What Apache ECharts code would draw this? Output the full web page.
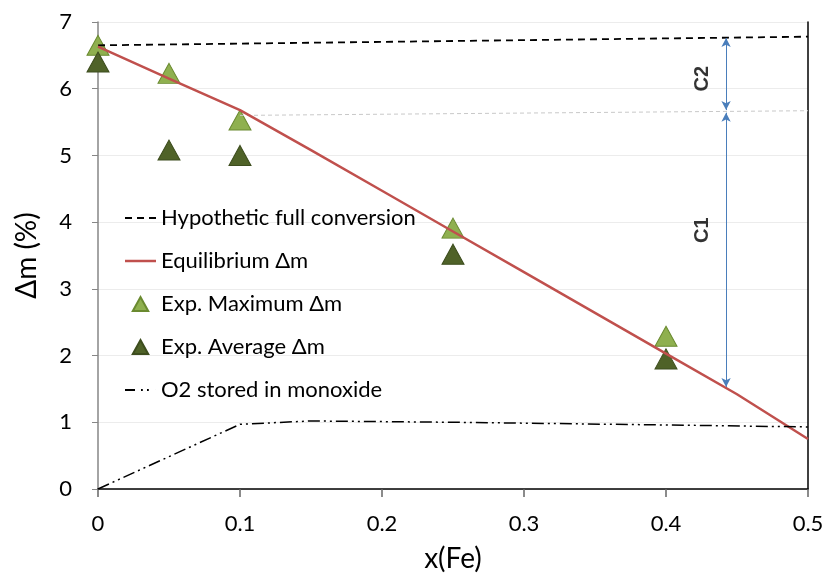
<!DOCTYPE html>
<html>
<head>
<meta charset="utf-8">
<script src="https://cdn.jsdelivr.net/npm/echarts@6/dist/echarts.min.js"></script>
<style>
html,body{margin:0;padding:0;background:#fff;}
#chart{width:828px;height:574px;}
</style>
</head>
<body>
<div id="chart"></div>
<script>
// series values
var fullConversion = [[0, 6.65], [0.5, 6.78]];
var equilibrium = [[0, 6.63], [0.05, 6.15], [0.1, 5.68], [0.15, 5.08], [0.2, 4.47], [0.25, 3.86],
                   [0.3, 3.25], [0.35, 2.64], [0.4, 2.03], [0.45, 1.42], [0.5, 0.75]];
var expMax = [[0, 6.65], [0.05, 6.23], [0.1, 5.53], [0.25, 3.91], [0.4, 2.29]];
var expAvg = [[0, 6.4], [0.05, 5.08], [0.1, 5.0], [0.25, 3.52], [0.4, 1.95]];
var o2Stored = [[0, 0], [0.1, 0.97], [0.15, 1.02], [0.25, 1.0], [0.4, 0.96], [0.5, 0.93]];
var c1Level = [[0.1, 5.6], [0.5, 5.67]];
var arrowX = 0.4423;
var c2Range = [6.76, 5.68];
var c1Range = [5.64, 1.53];
var cLabels = [[0.426, 6.15, 'C2'], [0.426, 3.88, 'C1']];

var chart = echarts.init(document.getElementById('chart'));
var font = 'Lato, "Noto Sans", sans-serif';

// legend icons
var dashIcon = 'path://M0,0h7v1.8h-7z M12,0h7v1.8h-7z M24,0h7v1.8h-7z';
var solidIcon = 'path://M0,0h31v2.5h-31z';
var dashDotIcon = 'path://M0,0h10v1.8h-10z M16,0h1.8v1.8h-1.8z M22,0h1.8v1.8h-1.8z M30.9,0h0.1v0.1h-0.1z';
var triIcon = 'path://M0,20L11,0L22,20Z';

var option = {
    animation: false,
    textStyle: {fontFamily: font},
    grid: {left: 98, right: 20, top: 22, bottom: 85, outerBoundsMode: 'none'},
    legend: {
        orient: 'vertical',
        left: 120,
        top: 202,
        itemWidth: 31,
        itemHeight: 14,
        itemGap: 21,
        textStyle: {fontSize: 22, color: '#000', fontFamily: font},
        data: [
            {name: 'Hypothetic full conversion', icon: dashIcon},
            {name: 'Equilibrium Δm', icon: solidIcon},
            {name: 'Exp. Maximum Δm', icon: triIcon},
            {name: 'Exp. Average Δm', icon: triIcon},
            {name: 'O2 stored in monoxide', icon: dashDotIcon}
        ]
    },
    xAxis: {
        type: 'value',
        min: 0, max: 0.5, interval: 0.1,
        name: 'x(Fe)',
        nameLocation: 'middle',
        nameGap: 56,
        nameTextStyle: {fontSize: 28, color: '#000', fontFamily: font},
        axisLine: {lineStyle: {color: '#000', width: 1.5}},
        axisTick: {length: 8, lineStyle: {color: '#666', width: 1.5}},
        axisLabel: {fontSize: 22, color: '#000', margin: 24},
        splitLine: {show: false}
    },
    yAxis: [{
        type: 'value',
        min: 0, max: 7, interval: 1,
        name: 'Δm (%)',
        nameLocation: 'middle',
        nameGap: 57,
        nameTextStyle: {fontSize: 28, color: '#000', fontFamily: font},
        axisLine: {show: true, lineStyle: {color: '#868686', width: 1.5}},
        axisTick: {show: true, length: 6, lineStyle: {color: '#868686'}},
        axisLabel: {fontSize: 22, color: '#000', margin: 26},
        splitLine: {lineStyle: {color: '#ececec'}}
    }, {
        type: 'value',
        min: 0, max: 7, interval: 1,
        position: 'right',
        axisLine: {show: true, lineStyle: {color: '#000', width: 1.5}},
        axisTick: {show: false},
        axisLabel: {show: false},
        splitLine: {show: false}
    }],
    series: [
        {
            name: 'C1 level',
            type: 'line',
            data: c1Level,
            symbol: 'none',
            silent: true,
            lineStyle: {color: '#c8c8c8', width: 1, type: [4, 3]},
            markLine: {
                silent: true,
                symbol: ['arrow', 'arrow'],
                symbolSize: [7, 9],
                label: {show: false},
                lineStyle: {color: '#4a7ebb', width: 1, type: 'solid'},
                data: [
                    [{coord: [arrowX, c2Range[0]]}, {coord: [arrowX, c2Range[1]]}],
                    [{coord: [arrowX, c1Range[0]]}, {coord: [arrowX, c1Range[1]]}]
                ]
            }
        },
        {
            name: 'Hypothetic full conversion',
            type: 'line',
            data: fullConversion,
            symbol: 'none',
            lineStyle: {color: '#000', width: 1.8, type: [7, 5]},
            itemStyle: {color: '#000'}
        },
        {
            name: 'Equilibrium Δm',
            type: 'line',
            data: equilibrium,
            symbol: 'none',
            lineStyle: {color: '#c0504d', width: 2.5},
            itemStyle: {color: '#c0504d'}
        },
        {
            name: 'O2 stored in monoxide',
            type: 'line',
            data: o2Stored,
            symbol: 'none',
            lineStyle: {color: '#000', width: 1.5, type: [12, 4, 2, 4, 2, 4]},
            itemStyle: {color: '#000'}
        },
        {
            name: 'Exp. Maximum Δm',
            type: 'scatter',
            data: expMax,
            symbol: 'triangle',
            symbolSize: [22, 20],
            itemStyle: {color: '#8fb04f', borderColor: '#6a8a30', borderWidth: 1, opacity: 1}
        },
        {
            name: 'Exp. Average Δm',
            type: 'scatter',
            data: expAvg,
            symbol: 'triangle',
            symbolSize: [22, 20],
            itemStyle: {color: '#4f6228', borderColor: '#3d4d1e', borderWidth: 1, opacity: 1}
        },
        {
            name: 'C labels',
            type: 'scatter',
            data: cLabels,
            symbolSize: 0,
            silent: true,
            label: {
                show: true,
                position: 'inside',
                rotate: 90,
                formatter: function (p) { return p.data[2]; },
                fontSize: 20,
                fontWeight: 'bold',
                color: '#000',
                fontFamily: '"Liberation Sans", Arial, sans-serif'
            }
        }
    ]
};
chart.setOption(option);
</script>
</body>
</html>
